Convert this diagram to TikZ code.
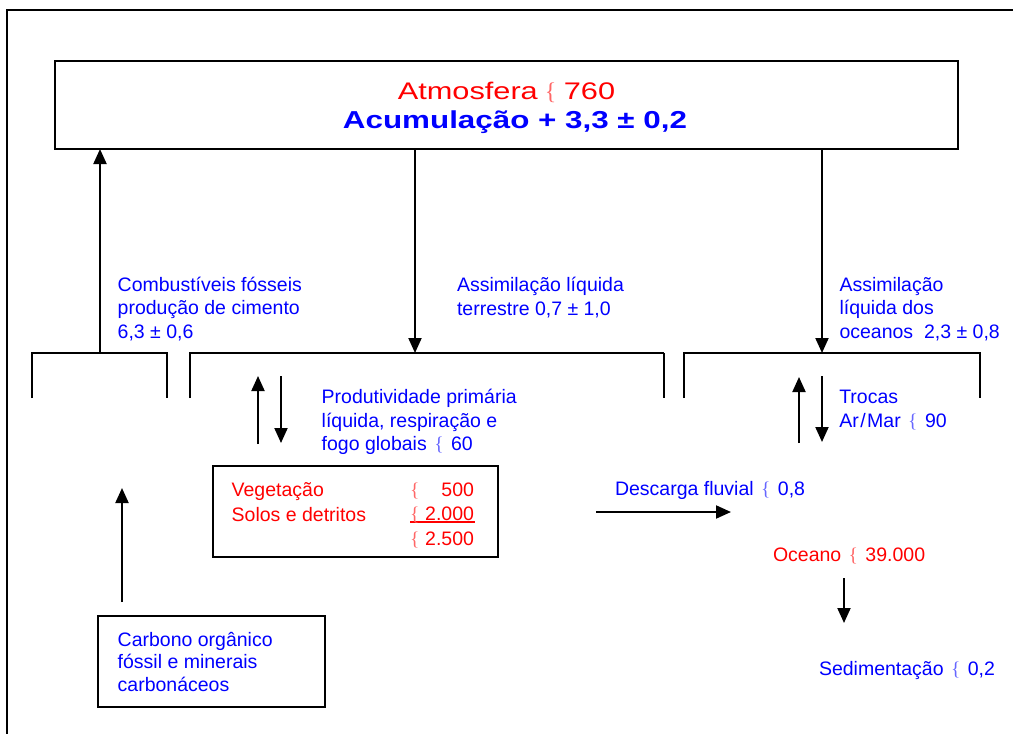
\documentclass[tikz,border=0pt]{standalone}
\usepackage{fontspec}
\setmainfont{Liberation Sans}
\newfontfamily\titlefont{Liberation Sans}[FakeStretch=1.28]
\newfontfamily\bracefont{Liberation Serif}
\usetikzlibrary{arrows.meta}
\definecolor{cred}{RGB}{255,0,0}
\definecolor{cblue}{RGB}{0,0,255}
% thin, light curly brace used as the "approx." sign
\newcommand\brcglyph{{\bracefont\color{.!60}\{}}
\newcommand\brc{\kern2pt\brcglyph\kern2pt}
% stock amount: brace on the left, number flush right
\newcommand\amt[1]{\makebox[64pt][s]{\brcglyph\hfill #1}}
\newcommand\amtu[1]{\rlap{\rule[-2.5pt]{65pt}{1.6pt}}\amt{#1}}
\begin{document}
\begin{tikzpicture}[x=1pt,y=-1pt,
  every node/.style={inner sep=0pt,outer sep=0pt},
  txt/.style={font=\fontsize{19.5}{23.5}\selectfont,align=left,anchor=base west},
  bluetxt/.style={txt,text=cblue},
  redtxt/.style={txt,text=cred},
  boxline/.style={draw=black,line width=2pt,anchor=north west},
  flow/.style={line width=2pt,-{Triangle[length=15pt,width=13pt]}},
  bracket/.style={line width=2pt}]
\useasboundingbox (0,0) rectangle (1013,734);

% outer frame
\draw[line width=2pt] (7,734) -- (7,10) -- (1013,10);

% atmosphere reservoir
\node[boxline,minimum width=903pt,minimum height=88pt,align=center,
      font=\titlefont\fontsize{24}{29}\selectfont] (atm) at (55,61)
  {\textcolor{cred}{\rule{0pt}{23pt}Atmosfera \kern-1.5pt\brcglyph\kern-1pt{} 760}\\
   \textcolor{cblue}{\fontsize{24.5}{29}\selectfont\bfseries\hspace*{17pt}Acumulação + 3,3 ± 0,2}};

% brackets under the atmosphere
\coordinate (lb) at (100,353);
\coordinate (mb) at (415,353);
\coordinate (rb) at (822,353);
\draw[bracket] (32,398) -- (32,353) -- (167,353) -- (167,398);
\draw[bracket] (190,398) -- (190,353) -- (438,353);
\draw[line width=1.2pt] (438,353) -- (664,353);
\draw[bracket] (664,353) -- (664,398);
\draw[bracket] (684,398) -- (684,353) -- (980,353) -- (980,398);

% fluxes to and from the atmosphere
\draw[flow] (lb) -- (lb |- atm.south);
\draw[flow] (mb |- atm.south) -- (mb);
\draw[flow] (rb |- atm.south) -- (rb);

% multi-line labels are placed by the baseline of their last line
\node[bluetxt] (fossil) at (117.7,338)
  {Combustíveis fósseis\\produção de cimento\\6,3 ± 0,6};
\node[bluetxt] (terr) at (457,315)
  {Assimilação líquida\\terrestre 0,7 ± 1,0};
\node[bluetxt] (ocass) at (839.5,338)
  {Assimilação\\líquida dos\\oceanos\ \ 2,3 ± 0,8};

% land exchange
\coordinate (lu0) at (258,444);
\coordinate (lu1) at (258,376);
\coordinate (ld0) at (281,376);
\coordinate (ld1) at (281,443);
\draw[flow] (lu0) -- (lu1);
\draw[flow] (ld0) -- (ld1);
\node[bluetxt] (npp) at (321.7,450.7)
  {Produtividade primária\\líquida, respiração e\\fogo globais \brc{} 60};

% ocean exchange
\coordinate (ou0) at (799,443);
\coordinate (ou1) at (799,377);
\coordinate (od0) at (822,376);
\coordinate (od1) at (822,442);
\draw[flow] (ou0) -- (ou1);
\draw[flow] (od0) -- (od1);
\node[bluetxt] (troc) at (839.3,427) {Trocas\\Ar\kern1.5pt/\kern1.5pt Mar \brc{} 90};

% vegetation and soils
\node[boxline,minimum width=285pt,minimum height=91pt] (veg) at (212.5,466) {};
\node[redtxt,font=\fontsize{19.5}{24.5}\selectfont] (vegnames) at (231.7,521)
  {Vegetação\\Solos e detritos};
\node[redtxt,font=\fontsize{19.5}{24.5}\selectfont] (vegamts) at (410,545)
  {\amt{500}\\\amtu{2.000}\\\amt{2.500}};

% river discharge
\coordinate (r0) at (596,512);
\coordinate (r1) at (731,512);
\draw[flow] (r0) -- (r1);
\node[bluetxt] (desc) at (615,495) {Descarga fluvial \brc{} 0,8};

% ocean and sedimentation
\node[redtxt] (oce) at (773,561.7) {Oceano \brc{} 39.000};
\coordinate (s0) at (844,578);
\coordinate (s1) at (844,623);
\draw[flow] (s0) -- (s1);
\node[bluetxt] (sed) at (819,675.7) {Sedimentação \brc{}\ 0,2};

% fossil carbon
\node[boxline,minimum width=226.7pt,minimum height=91.3pt] (fos) at (98.3,616) {};
\node[bluetxt,font=\fontsize{19.5}{22.8}\selectfont] (fostxt) at (117.7,691.7)
  {Carbono orgânico\\fóssil e minerais\\carbonáceos};
\coordinate (f0) at (122,602);
\coordinate (f1) at (122,488);
\draw[flow] (f0) -- (f1);
\end{tikzpicture}
\end{document}
